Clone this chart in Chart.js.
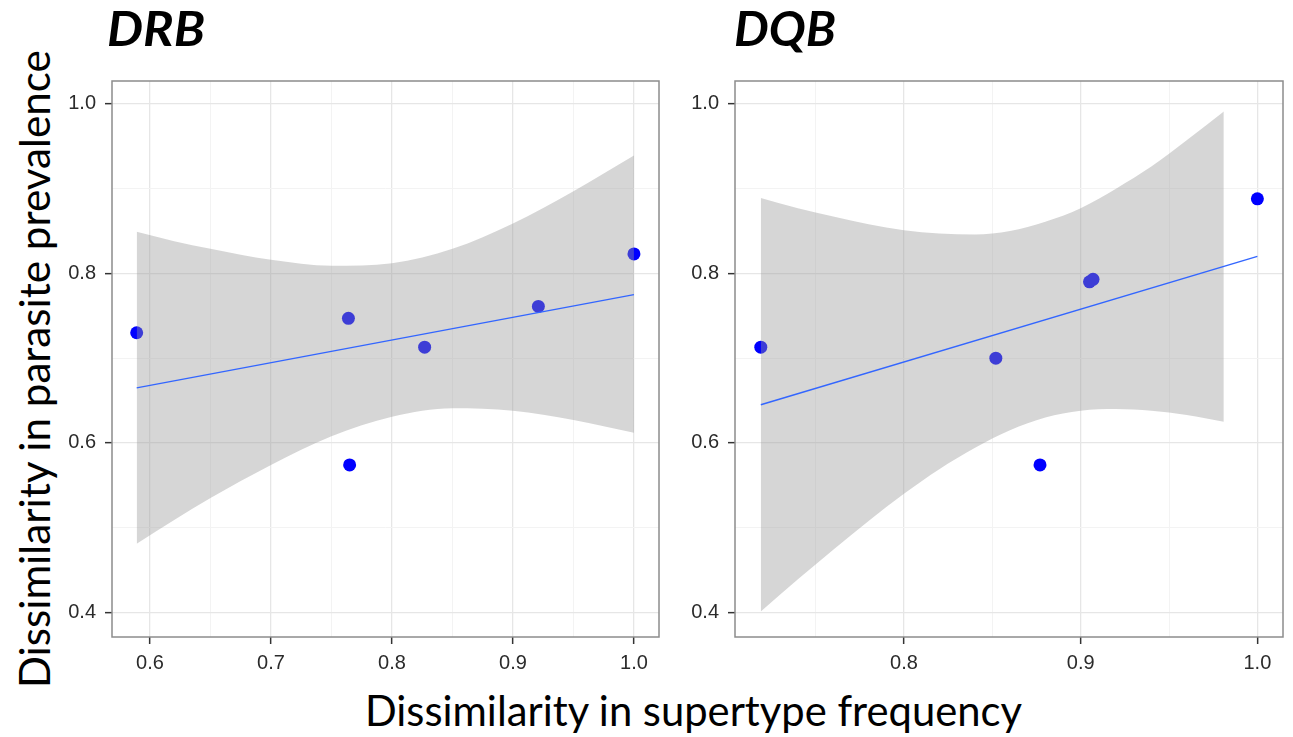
<!DOCTYPE html>
<html>
<head>
<meta charset="utf-8">
<script src="https://cdn.jsdelivr.net/npm/chart.js@4.4.1/dist/chart.umd.min.js"></script>
<style>
    html, body { margin: 0; padding: 0; background: #fff; }
    body { position: relative; width: 1293px; height: 737px; overflow: hidden; }
    canvas { position: absolute; }
    .panel-title { position: absolute; font-family: Lato, sans-serif; font-weight: bold; font-style: italic; font-size: 47px; line-height: 1; white-space: nowrap; color: #000; }
    .axis-title { position: absolute; font-family: Lato, sans-serif; line-height: 1; white-space: nowrap; color: #000; }
</style>
</head>
<body>
<div class="panel-title" id="t-drb">DRB</div>
<div class="panel-title" id="t-dqb">DQB</div>
<div class="axis-title" id="y-title">Dissimilarity in parasite prevalence</div>
<div class="axis-title" id="x-title">Dissimilarity in supertype frequency</div>
<canvas id="drb-chart" width="640" height="630" style="left:40px; top:70px;"></canvas>
<canvas id="dqb-chart" width="630" height="630" style="left:663px; top:70px;"></canvas>
<script>
// DRB panel
const drbX = [0.589, 0.764, 0.765, 0.827, 0.921, 1.0];
const drbY = [0.730, 0.747, 0.574, 0.713, 0.761, 0.823];
const drbFitX = [0.589, 1.0];
const drbFitY = [0.665, 0.775];
const drbBandX = [0.589, 0.62, 0.65, 0.70, 0.75, 0.80, 0.85, 0.90, 0.95, 1.0];
const drbBandHi = [0.849, 0.838, 0.829, 0.816, 0.809, 0.812, 0.829, 0.859, 0.897, 0.939];
const drbBandLo = [0.481, 0.509, 0.535, 0.574, 0.608, 0.631, 0.641, 0.638, 0.627, 0.612];
const drbXMajor = [0.6, 0.7, 0.8, 0.9, 1.0];
const drbXMinor = [0.65, 0.75, 0.85, 0.95];

// DQB panel
const dqbX = [0.719, 0.852, 0.877, 0.905, 0.907, 1.0];
const dqbY = [0.713, 0.700, 0.574, 0.790, 0.793, 0.888];
const dqbFitX = [0.719, 1.0];
const dqbFitY = [0.645, 0.820];
const dqbBandX = [0.719, 0.74, 0.76, 0.78, 0.80, 0.82, 0.84, 0.86, 0.88, 0.90, 0.92, 0.94, 0.96, 0.981];
const dqbBandHi = [0.889, 0.877, 0.867, 0.858, 0.851, 0.847, 0.846, 0.850, 0.861, 0.877, 0.900, 0.926, 0.957, 0.991];
const dqbBandLo = [0.401, 0.439, 0.474, 0.508, 0.540, 0.569, 0.594, 0.615, 0.630, 0.638, 0.640, 0.638, 0.633, 0.625];
const dqbXMajor = [0.8, 0.9, 1.0];
const dqbXMinor = [0.75, 0.85, 0.95];

// shared y axis
const yMajor = [0.4, 0.6, 0.8, 1.0];
const yMinor = [0.5, 0.7, 0.9];

const zip = (xs, ys) => xs.map((x, i) => ({ x: x, y: ys[i] }));
const isMajor = (v, list) => list.some((m) => Math.abs(m - v) < 1e-6);

// theme_bw style box round the panel
const panelBorder = {
    id: 'panelBorder',
    afterDraw(chart) {
        const { ctx, chartArea: a } = chart;
        ctx.save();
        ctx.strokeStyle = '#8c8c8c';
        ctx.lineWidth = 1.5;
        ctx.strokeRect(a.left, a.top, a.right - a.left, a.bottom - a.top);
        ctx.restore();
    }
};

function makeAxis(major, minor, min, max, fitFn) {
    const all = major.concat(minor).sort((a, b) => a - b);
    return {
        type: 'linear',
        min: min,
        max: max,
        afterBuildTicks: (scale) => { scale.ticks = all.map((v) => ({ value: v })); },
        afterFit: fitFn,
        border: { display: false },
        grid: {
            color: (c) => (c.tick && isMajor(c.tick.value, major)) ? '#e6e6e6' : '#f3f3f3',
            lineWidth: (c) => (c.tick && isMajor(c.tick.value, major)) ? 1.3 : 1,
            tickColor: (c) => (c.tick && isMajor(c.tick.value, major)) ? '#333333' : 'rgba(0,0,0,0)',
            tickLength: 7,
            tickWidth: 1.5,
        },
        ticks: {
            autoSkip: false,
            maxRotation: 0,
            minRotation: 0,
            color: '#2b2b2b',
            font: { family: "'Liberation Sans', Arial, sans-serif", size: 20 },
            padding: 7,
            callback: (v) => isMajor(v, major) ? v.toFixed(1) : '',
        }
    };
}

function renderPanel(id, xs, ys, fitX, fitY, bandX, bandHi, bandLo, xMajor, xMinor, xMin, xMax, padRight) {
    const ctx = document.getElementById(id).getContext('2d');
    const yAxis = makeAxis(yMajor, yMinor, 0.371, 1.027, (s) => {
        s.width = 72;
        s.paddingTop = 0;
        s.paddingBottom = 0;
    });
    yAxis.ticks.padding = 9;
    const xAxis = makeAxis(xMajor, xMinor, xMin, xMax, (s) => {
        s.height = 63;
        s.paddingLeft = 0;
        s.paddingRight = 0;
    });
    return new Chart(ctx, {
        type: 'scatter',
        data: {
            datasets: [
                {
                    data: zip(fitX, fitY),
                    showLine: true,
                    borderColor: '#3366FF',
                    borderWidth: 1.4,
                    pointRadius: 0,
                    fill: false,
                    order: 1,
                },
                {
                    data: zip(bandX, bandHi),
                    showLine: true,
                    borderColor: 'rgba(0,0,0,0)',
                    borderWidth: 0,
                    pointRadius: 0,
                    cubicInterpolationMode: 'monotone',
                    fill: '+1',
                    backgroundColor: 'rgba(153,153,153,0.4)',
                    order: 2,
                },
                {
                    data: zip(bandX, bandLo),
                    showLine: true,
                    borderColor: 'rgba(0,0,0,0)',
                    borderWidth: 0,
                    pointRadius: 0,
                    cubicInterpolationMode: 'monotone',
                    fill: false,
                    order: 2,
                },
                {
                    data: zip(xs, ys),
                    showLine: false,
                    pointRadius: 6.5,
                    pointBorderWidth: 0,
                    pointBackgroundColor: '#0000FF',
                    order: 3,
                }
            ]
        },
        options: {
            animation: false,
            responsive: false,
            events: [],
            layout: { padding: { top: 11, right: padRight, bottom: 0, left: 0 } },
            plugins: {
                legend: { display: false },
                tooltip: { enabled: false },
            },
            scales: {
                x: xAxis,
                y: yAxis,
            }
        },
        plugins: [panelBorder]
    });
}

renderPanel('drb-chart', drbX, drbY, drbFitX, drbFitY, drbBandX, drbBandHi, drbBandLo,
    drbXMajor, drbXMinor, 0.5686, 1.0207, 21);
renderPanel('dqb-chart', dqbX, dqbY, dqbFitX, dqbFitY, dqbBandX, dqbBandHi, dqbBandLo,
    dqbXMajor, dqbXMinor, 0.7044, 1.0145, 10);

// Titles and shared axis titles
function fitWidth(el, target) {
    el.style.fontSize = '100px';
    const w = el.getBoundingClientRect().width;
    const size = 100 * target / w;
    el.style.fontSize = size + 'px';
    return size;
}

function placeTitle(id, left, baseline, width) {
    const el = document.getElementById(id);
    const w = el.getBoundingClientRect().width;
    el.style.transformOrigin = 'left top';
    el.style.transform = 'scaleX(' + (width / w) + ')';
    el.style.left = left + 'px';
    el.style.top = (baseline - 0.887 * 47) + 'px';
}
placeTitle('t-drb', 107, 47, 98);
placeTitle('t-dqb', 734, 47, 102);

const xt = document.getElementById('x-title');
const xs = fitWidth(xt, 657);
xt.style.left = '365px';
xt.style.top = (727 - 0.887 * xs) + 'px';

const yt = document.getElementById('y-title');
const ys = fitWidth(yt, 638);
const yw = yt.getBoundingClientRect().width;
const cx = 50 - 0.887 * ys + ys / 2;
yt.style.left = (cx - yw / 2) + 'px';
yt.style.top = (369 - ys / 2) + 'px';
yt.style.transform = 'rotate(-90deg)';
</script>
</body>
</html>
